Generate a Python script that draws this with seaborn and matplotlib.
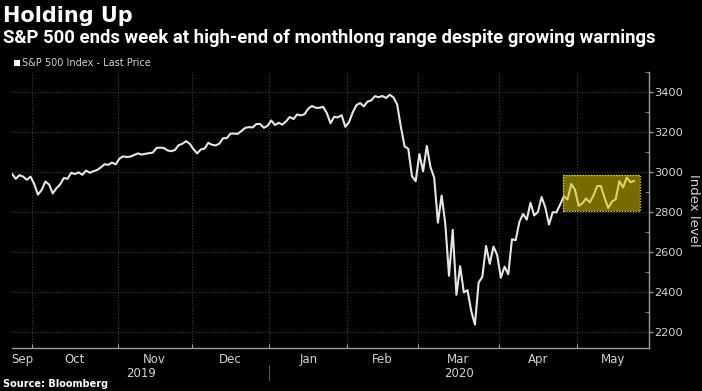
import numpy as np
import pandas as pd
import matplotlib
matplotlib.use("Agg")
import matplotlib.pyplot as plt
from matplotlib.patches import Rectangle
from matplotlib.ticker import MultipleLocator
import seaborn as sns

# ---------------- data ----------------
start_date = "2019-09-23"
end_date = "2020-05-22"
market_holidays = ["2019-11-28", "2019-12-25", "2020-01-01", "2020-01-20",
                   "2020-02-17", "2020-04-10"]

sep_vals = [2991, 2966, 2984, 2977, 2961, 2977]
oct_vals = [2940, 2887, 2910, 2952, 2938, 2893, 2919, 2938, 2970, 2966, 2996, 2990,
            2998, 2986, 3007, 2996, 3004, 3010, 3023, 3039, 3036, 3047, 3038]
nov_vals = [3067, 3078, 3075, 3077, 3085, 3093, 3087, 3091, 3094, 3097, 3120, 3122,
            3120, 3108, 3104, 3110, 3134, 3141, 3154, 3141]
dec_vals = [3114, 3093, 3113, 3117, 3146, 3136, 3133, 3142, 3169, 3169, 3192, 3192,
            3191, 3206, 3221, 3224, 3223, 3240, 3240, 3221, 3231]
jan_vals = [3258, 3235, 3246, 3237, 3253, 3275, 3265, 3288, 3283, 3289, 3317, 3330,
            3321, 3321, 3326, 3295, 3244, 3276, 3273, 3284, 3226]
feb_vals = [3249, 3298, 3334, 3345, 3328, 3352, 3358, 3379, 3374, 3380, 3370, 3386,
            3373, 3338, 3226, 3128, 3116, 2979, 2954]
mar_vals = [3090, 3003, 3130, 3024, 2972, 2747, 2882, 2741, 2481, 2711, 2386, 2529,
            2398, 2409, 2305, 2237, 2447, 2476, 2630, 2541, 2627, 2585]
apr_vals = [2471, 2527, 2489, 2664, 2659, 2750, 2790, 2762, 2846, 2783, 2800, 2875,
            2823, 2737, 2799, 2798, 2837, 2878, 2863, 2940, 2912]
may_vals = [2831, 2843, 2868, 2848, 2882, 2930, 2930, 2870, 2820, 2852, 2864, 2954,
            2923, 2972, 2949, 2955]

range_start = "2020-04-27"
range_low, range_high = 2805, 2985

y_ticks = [2200, 2400, 2600, 2800, 3000, 3200, 3400]
month_names = ["Sep", "Oct", "Nov", "Dec", "Jan", "Feb", "Mar", "Apr", "May"]
title = "Holding Up"
subtitle = "S&P 500 ends week at high-end of monthlong range despite growing warnings"
legend_label = "S&P 500 Index - Last Price"
y_label = "Index level"
source = "Source: Bloomberg"

# ---------------- build frame ----------------
bday = pd.offsets.CustomBusinessDay(holidays=market_holidays)
dates = pd.date_range(start_date, end_date, freq=bday)
values = sep_vals + oct_vals + nov_vals + dec_vals + jan_vals + feb_vals + mar_vals + apr_vals + may_vals
df = pd.DataFrame({"date": dates, "value": values})
df["pos"] = np.arange(len(df))

# ---------------- style ----------------
sns.set_theme(style="dark")
plt.rcParams["font.family"] = ["DejaVu Sans"]
BG = "#000000"
GRID = "#3c3c3c"
TXT = "#d2d2d2"

fig = plt.figure(figsize=(7.02, 3.91), dpi=100, facecolor=BG)
ax = fig.add_axes([12 / 702, 1 - 348 / 391, 637 / 702, 276 / 391])
ax.set_facecolor(BG)

xmax = len(df) - 1 + 4
ax.set_xlim(0, xmax)
ax.set_ylim(2120, 3500)

# gridlines
month_key = df["date"].dt.to_period("M")
first_idx = df.groupby(month_key)["pos"].min().values
boundaries = [p - 0.5 for p in first_idx[1:]]
for b in boundaries:
    ax.axvline(b, color=GRID, lw=0.8, ls=(0, (1, 1.5)), zorder=0)
for t in y_ticks:
    ax.axhline(t, color=GRID, lw=0.8, ls=(0, (1, 1.5)), zorder=0)

sns.lineplot(data=df, x="pos", y="value", ax=ax, color="#e6e6e6", lw=1.5,
             legend=False, zorder=3)

# highlight box
r0 = df.loc[df["date"] == pd.Timestamp(range_start), "pos"].iloc[0] - 0.3
r1 = len(df) - 1 + 1.5
ax.add_patch(Rectangle((r0, range_low), r1 - r0, range_high - range_low,
                       facecolor="#d8c400", alpha=0.55, edgecolor="none", zorder=4))
ax.add_patch(Rectangle((r0, range_low), r1 - r0, range_high - range_low,
                       facecolor="none", edgecolor="#d8c830", lw=1.0,
                       ls=(0, (1, 1)), zorder=5))

# spines
for s in ["top", "left"]:
    ax.spines[s].set_visible(False)
for s in ["right", "bottom"]:
    ax.spines[s].set_visible(True)
    ax.spines[s].set_color("#9a9a9a")
    ax.spines[s].set_linewidth(1.0)

# y axis on right
ax.yaxis.tick_right()
ax.set_yticks(y_ticks)
ax.set_yticklabels([str(t) for t in y_ticks])
ax.yaxis.set_minor_locator(MultipleLocator(100))
ax.tick_params(axis="y", which="major", right=True, length=3, width=1,
               color="#9a9a9a", labelcolor=TXT, labelsize=8.2, pad=1)
ax.tick_params(axis="y", which="minor", right=True, length=3, width=0.8,
               color="#777777", direction="in")
ax.set_ylabel("")
ax.set_xlabel("")
fig.text(693 / 702, 1 - 210 / 391, y_label, rotation=270, color=TXT,
         fontsize=9.5, ha="center", va="center")

# x axis: ticks at month boundaries, labels centered
ax.set_xticks(boundaries)
ax.set_xticklabels([])
ax.tick_params(axis="x", which="major", bottom=True, length=3, width=0.8,
               color="#9a9a9a", direction="in")
trans = ax.get_xaxis_transform()
for i, name in enumerate(month_names):
    lo = 0 if i == 0 else first_idx[i] - 0.5
    hi = xmax if i == len(month_names) - 1 else first_idx[i + 1] - 0.5
    ax.text((lo + hi) / 2, -0.018, name, transform=trans, ha="center", va="top",
            color=TXT, fontsize=8.5)

year_key = df["date"].dt.year
jan_boundary = df.loc[year_key == 2020, "pos"].min() - 0.5
ax.text(jan_boundary / 2, -0.07, "2019", transform=trans, ha="center", va="top",
        color=TXT, fontsize=8.5)
ax.text((jan_boundary + xmax) / 2, -0.07, "2020", transform=trans, ha="center",
        va="top", color=TXT, fontsize=8.5)
ax.plot([jan_boundary, jan_boundary], [-0.06, -0.115], transform=trans,
        color="#555555", lw=0.8, clip_on=False)

# titles
fig.text(3 / 702, 1 - 6 / 391, title, color="white", fontsize=15,
         fontweight="bold", ha="left", va="top")
fig.text(3 / 702, 1 - 29 / 391, subtitle, color="white", fontsize=13.3,
         fontweight="bold", ha="left", va="top", family=["Roboto", "DejaVu Sans"])
fig.patches.append(Rectangle((14 / 702, 1 - 66 / 391), 6 / 702, 6 / 391,
                             transform=fig.transFigure, facecolor="white",
                             edgecolor="none"))
fig.text(22 / 702, 1 - 63 / 391, legend_label, color=TXT, fontsize=7,
         ha="left", va="center")
fig.text(3 / 702, 1 - 384 / 391, source, color="white", fontsize=7,
         fontweight="bold", ha="left", va="center")

fig.savefig("out.png", dpi=100, facecolor=BG)
